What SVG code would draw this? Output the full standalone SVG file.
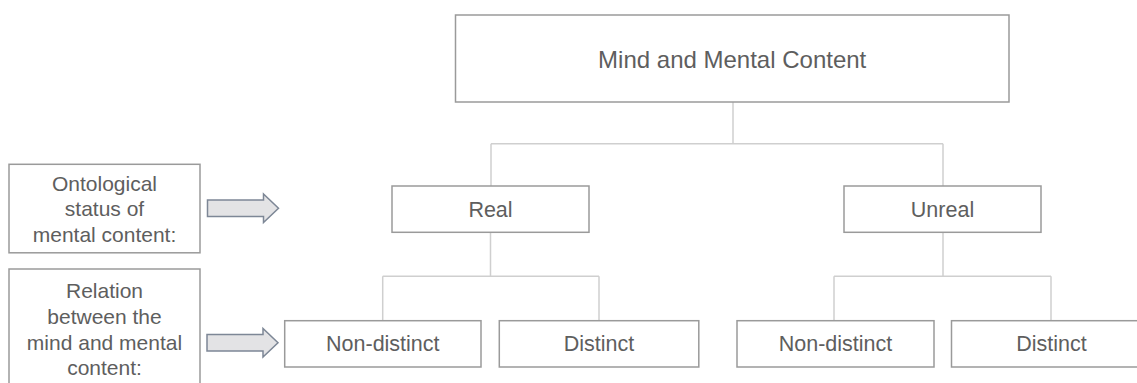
<svg xmlns="http://www.w3.org/2000/svg" width="1137" height="383" viewBox="0 0 1137 383">
  <defs>
    <style>
      .box { fill: #ffffff; stroke: #9a9a9a; stroke-width: 1.5; }
      .lbl { font-family: "Liberation Sans", Arial, sans-serif; fill: #5e5e5e; text-anchor: middle; }
      .t1 { font-size: 24px; }
      .t2 { font-size: 21.5px; }
      .t3 { font-size: 21px; }
      .conn { fill: none; stroke: #cfcfcf; stroke-width: 1.5; }
      .arrow { fill: #e3e3e5; stroke: #7d8796; stroke-width: 1.5; stroke-linejoin: miter; }
    </style>
    <!-- block arrow pointing right, centred on y=0 -->
    <path id="blockArrow" d="M0,-8.3 H56 V-14.3 L71,0 L56,14.3 V8.3 H0 Z"/>
  </defs>

  <rect width="1137" height="383" fill="#ffffff"/>

  <!-- tree connectors -->
  <g id="connectors" class="conn">
    <path d="M733,102 V143.7 M491,143.7 H943 M491,143.7 V186 M943,143.7 V186"/>
    <path d="M490.5,232 V276.3 M382.7,276.3 H599 M382.7,276.3 V320.7 M599,276.3 V320.7"/>
    <path d="M943,232 V276.3 M834,276.3 H1051 M834,276.3 V320.7 M1051,276.3 V320.7"/>
  </g>

  <!-- side captions -->
  <g id="caption-ontology">
    <rect class="box" x="9" y="164.3" width="191" height="88.5"/>
    <text class="lbl t3" x="104.5" y="190.5">Ontological</text>
    <text class="lbl t3" x="104.5" y="216">status of</text>
    <text class="lbl t3" x="104.5" y="241.5">mental content:</text>
  </g>
  <g id="caption-relation">
    <rect class="box" x="9" y="269" width="191" height="130"/>
    <text class="lbl t3" x="104.5" y="298.3">Relation</text>
    <text class="lbl t3" x="104.5" y="323.9">between the</text>
    <text class="lbl t3" x="104.5" y="349.5">mind and mental</text>
    <text class="lbl t3" x="104.5" y="375.1">content:</text>
  </g>

  <!-- pointer arrows -->
  <g id="arrow-ontology">
    <use href="#blockArrow" class="arrow" transform="translate(207.5,208.3)"/>
  </g>
  <g id="arrow-relation">
    <use href="#blockArrow" class="arrow" transform="translate(207,342.8)"/>
  </g>

  <!-- root -->
  <g id="node-root">
    <rect class="box" x="455.5" y="15" width="553.5" height="87"/>
    <text class="lbl t1" x="732.2" y="67.5">Mind and Mental Content</text>
  </g>

  <!-- ontological status -->
  <g id="node-real">
    <rect class="box" x="392" y="186" width="197" height="46.3"/>
    <text class="lbl t2" x="490.5" y="216.7">Real</text>
  </g>
  <g id="node-unreal">
    <rect class="box" x="844" y="186" width="197" height="46.3"/>
    <text class="lbl t2" x="942.5" y="216.7">Unreal</text>
  </g>

  <!-- relation -->
  <g id="node-real-nondistinct">
    <rect class="box" x="284.7" y="320.7" width="196.3" height="46.3"/>
    <text class="lbl t2" x="382.8" y="351.3">Non-distinct</text>
  </g>
  <g id="node-real-distinct">
    <rect class="box" x="499.3" y="320.7" width="199.5" height="46.3"/>
    <text class="lbl t2" x="599" y="351.3">Distinct</text>
  </g>
  <g id="node-unreal-nondistinct">
    <rect class="box" x="737" y="320.7" width="197" height="46.3"/>
    <text class="lbl t2" x="835.5" y="351.3">Non-distinct</text>
  </g>
  <g id="node-unreal-distinct">
    <rect class="box" x="951.5" y="320.7" width="200" height="46.3"/>
    <text class="lbl t2" x="1051.5" y="351.3">Distinct</text>
  </g>
</svg>
